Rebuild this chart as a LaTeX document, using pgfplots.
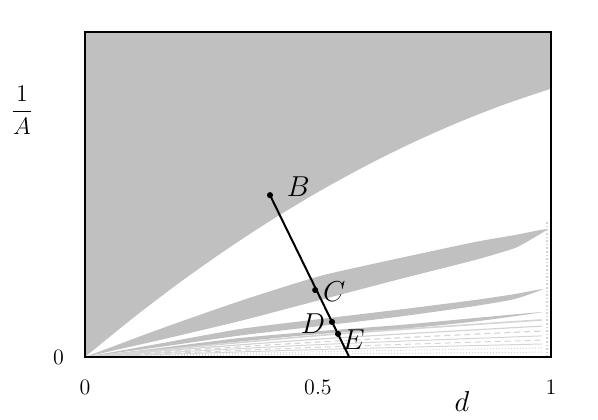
\documentclass[border=0pt]{standalone}
\usepackage{pgfplots}
\pgfplotsset{compat=1.18}
\definecolor{tongue}{RGB}{192,192,192}
\definecolor{faint}{RGB}{212,212,212}
\begin{document}
\begin{tikzpicture}
\begin{axis}[
    scale only axis,
    width=233pt, height=162.5pt,
    xmin=0, xmax=1, ymin=0, ymax=1,
    axis on top,
    axis line style={line width=1pt},
    major tick length=0pt,
    tick label style={font=\fontsize{11}{13}\selectfont},
    xtick={0,0.5,1}, xticklabels={0,0.5,1},
    ytick={0}, yticklabels={0},
    xticklabel style={yshift=-8pt},
    yticklabel style={xshift=-7pt},
    xlabel={\fontsize{15}{17}\selectfont $d$},
    xlabel style={at={(axis description cs:0.809,0)}, anchor=center, yshift=-22pt},
    ylabel={\fontsize{11.5}{14}\selectfont $\displaystyle\frac{1}{A}$},
    ylabel style={rotate=-90, at={(axis description cs:0,0.76)}, anchor=center, xshift=-31.5pt},
    clip=false,
]
% main tongue (upper region)
\addplot[fill=tongue, draw=none, smooth] coordinates {
  (0,0) (0.1009,0.1176) (0.1996,0.2253) (0.3004,0.3277) (0.3991,0.4204)
  (0.5,0.5075) (0.6009,0.5869) (0.6996,0.6572) (0.8004,0.7213)
  (0.8991,0.7767) (1,0.8256)
} -- (rel axis cs:1,1) -- (rel axis cs:0,1) -- cycle;
% second tongue
\addplot[fill=tongue, draw=none, smooth, tension=0.35] coordinates {
  (0,0) (0.1609,0.0862) (0.3326,0.1723) (0.5043,0.2492) (0.6760,0.3046)
  (0.8369,0.3538) (0.9227,0.3754) (0.9914,0.3938)
  (0.9657,0.3692) (0.9227,0.3354) (0.8369,0.2985) (0.6760,0.2400)
  (0.5043,0.1754) (0.3326,0.1108) (0.1609,0.0523)
} -- cycle;
% third tongue
\addplot[fill=tongue, draw=none, smooth, tension=0.35] coordinates {
  (0,0) (0.1609,0.0415) (0.3326,0.0862) (0.5043,0.1169) (0.6760,0.1462)
  (0.8369,0.1754) (0.9227,0.1938) (0.9828,0.2092)
  (0.9227,0.1785) (0.8369,0.1569) (0.6760,0.1246) (0.5043,0.0954)
  (0.3326,0.0662) (0.1609,0.0308)
} -- cycle;
% fourth tongue
\addplot[fill=tongue, draw=none, smooth, tension=0.35] coordinates {
  (0,0) (0.1609,0.0277) (0.3326,0.0585) (0.5043,0.0800) (0.6760,0.0985)
  (0.8369,0.1200) (0.9828,0.1385)
  (0.8369,0.1092) (0.6760,0.0862) (0.5043,0.0708) (0.3326,0.0477) (0.1609,0.0215)
} -- cycle;
% thin tongues near the bottom
\addplot[faint, line width=0.8pt, smooth] coordinates {(0,0) (0.5,0.066) (0.98,0.114)};
\addplot[faint, line width=0.6pt, smooth] coordinates {(0,0) (0.5,0.055) (0.98,0.095)};
\addplot[faint, line width=0.6pt, densely dashed, smooth] coordinates {(0,0) (0.5,0.046) (0.98,0.080)};
\addplot[faint, line width=0.5pt, smooth] coordinates {(0,0) (0.5,0.038) (0.98,0.065)};
\addplot[faint, line width=0.5pt, densely dashed, smooth] coordinates {(0,0) (0.5,0.030) (0.98,0.052)};
\addplot[faint, line width=0.5pt, smooth] coordinates {(0,0) (0.5,0.023) (0.98,0.040)};
\addplot[faint, line width=0.5pt, densely dotted, smooth] coordinates {(0,0) (0.5,0.016) (0.98,0.028)};
\addplot[faint, line width=0.5pt, densely dotted, smooth] coordinates {(0,0) (0.5,0.009) (0.98,0.015)};
\addplot[faint, line width=0.8pt, densely dotted] coordinates {(0.992,0) (0.992,0.42)};
% path B - E
\addplot[black, line width=1pt] coordinates {(0.397,0.498) (0.567,0)};
\addplot[only marks, mark=*, mark size=1.3pt, black] coordinates {
  (0.397,0.498) (0.494,0.206) (0.530,0.108) (0.543,0.071)
};
\node[font=\fontsize{14}{16}\selectfont] at (axis cs:0.458,0.523) {$B$};
\node[font=\fontsize{14}{16}\selectfont] at (axis cs:0.535,0.200) {$C$};
\node[font=\fontsize{14}{16}\selectfont] at (axis cs:0.489,0.1015) {$D$};
\node[font=\fontsize{14}{16}\selectfont] at (axis cs:0.576,0.052) {$E$};
\end{axis}
\path (-42.5pt,-31pt) rectangle (256.5pt,178.5pt);
\end{tikzpicture}
\end{document}
